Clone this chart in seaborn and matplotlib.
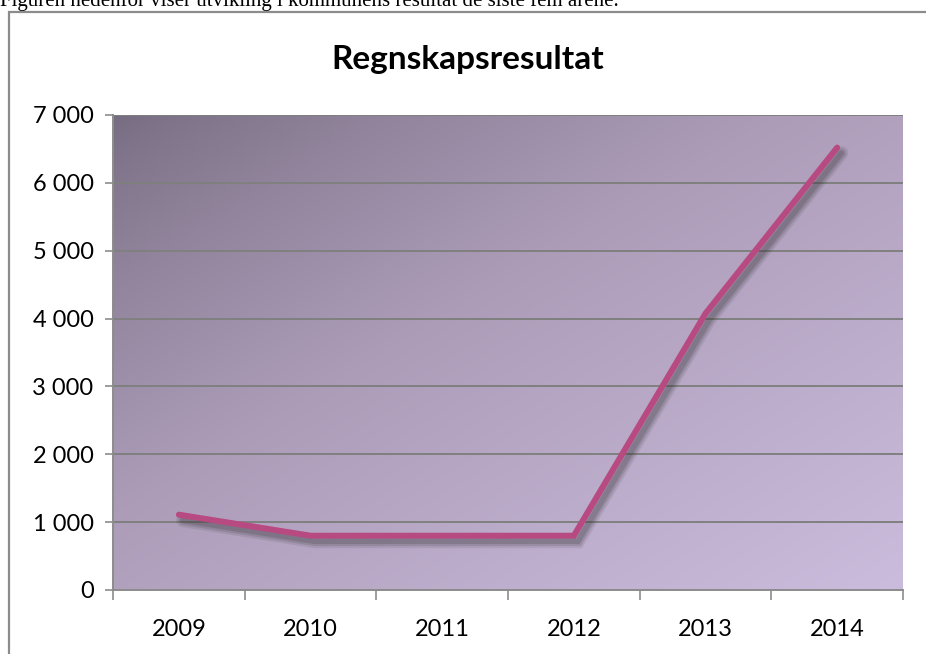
import numpy as np
import pandas as pd
import matplotlib
matplotlib.use("Agg")
import matplotlib.pyplot as plt
import matplotlib.patheffects as pe
from matplotlib.patches import Rectangle
from matplotlib.ticker import FixedLocator, FuncFormatter
import seaborn as sns

# ---- data ----
years = ["2009", "2010", "2011", "2012", "2013", "2014"]
values = [1110, 800, 800, 800, 4075, 6520]
title = "Regnskapsresultat"
header = "Figuren nedenfor viser utvikling i kommunens resultat de siste fem årene."
yticks = [0, 1000, 2000, 3000, 4000, 5000, 6000, 7000]

df = pd.DataFrame({"year": years, "value": values})

sns.set_style("white")
plt.rcParams["font.family"] = ["Lato", "DejaVu Sans"]

W, H = 926, 654
fig = plt.figure(figsize=(W / 100, H / 100), dpi=100)
fig.patch.set_facecolor("white")

# outer chart border (extends past right/bottom edges)
fig.patches.append(Rectangle((9 / W, -0.05), 1.1, 1 - 12 / H + 0.05,
                             transform=fig.transFigure, fill=False,
                             edgecolor="#8c8c8c", linewidth=1.6, zorder=1))

# header text (cut off at top, as in the reference)
fig.text(0 / W, 1 - 6 / H, header, family=["Liberation Serif", "DejaVu Serif"],
         fontsize=15, ha="left", va="baseline", color="black")

left, right, top, bottom = 113, 903, 115, 590
ax = fig.add_axes([left / W, 1 - bottom / H, (right - left) / W, (bottom - top) / H])

# gradient background
nx, ny = 300, 200
u = np.linspace(0, 1, nx)[None, :]
v = np.linspace(0, 1, ny)[:, None]  # 0 at top
t = np.clip((u * 0.5 + v * 0.5), 0, 1) ** 0.8
c0 = np.array([118, 108, 128]) / 255
cm = np.array([172, 156, 184]) / 255
c1 = np.array([203, 188, 221]) / 255
tt = t[..., None]
img = np.where(tt < 0.5,
               c0 * (1 - tt * 2) + cm * (tt * 2),
               cm * (1 - (tt - 0.5) * 2) + c1 * ((tt - 0.5) * 2))
ax.imshow(img, extent=[0, 1, 0, 1], transform=ax.transAxes, aspect="auto",
          zorder=0, interpolation="bilinear")

sns.lineplot(data=df, x="year", y="value", ax=ax, color="#b84a82",
             linewidth=4.3, sort=False, zorder=5,
             solid_capstyle="round", solid_joinstyle="miter")
line = ax.lines[-1]
line.set_path_effects([
    pe.SimpleLineShadow(offset=(3, -4), shadow_color="#2a2a2a", alpha=0.10, linewidth=10),
    pe.SimpleLineShadow(offset=(3, -4), shadow_color="#2a2a2a", alpha=0.15, linewidth=7),
    pe.SimpleLineShadow(offset=(3, -4), shadow_color="#2a2a2a", alpha=0.18, linewidth=4),
    pe.Normal(),
])

ax.set_xlim(-0.5, len(years) - 0.5)
ax.set_ylim(0, 7000)
ax.set_yticks(yticks)
ax.yaxis.set_major_formatter(FuncFormatter(lambda val, pos: f"{int(val):,}".replace(",", " ")))
ax.grid(axis="y", color="#808080", linewidth=1.4, zorder=2)
ax.grid(axis="x", visible=False)
for gl in ax.get_ygridlines():
    gl.set_zorder(2)

ax.set_xlabel("")
ax.set_ylabel("")

# ticks
ax.tick_params(axis="y", which="major", length=6, width=1.2, color="#8c8c8c",
               labelsize=17, pad=8, labelcolor="black", left=True)
ax.tick_params(axis="x", which="major", length=0, labelsize=17, pad=21, labelcolor="black")
ax.xaxis.set_minor_locator(FixedLocator(np.arange(-0.5, len(years), 1.0)))
ax.tick_params(axis="x", which="minor", length=7, width=1.2, color="#8c8c8c", bottom=True)

for s in ["top", "right"]:
    ax.spines[s].set_visible(False)
for s in ["left", "bottom"]:
    ax.spines[s].set_visible(True)
    ax.spines[s].set_color("#8c8c8c")
    ax.spines[s].set_linewidth(1.4)
    ax.spines[s].set_zorder(3)

fig.text(468 / W, 1 - 60 / H, title, fontsize=24, fontweight="bold",
         ha="center", va="center", color="black")

fig.savefig("out.png", dpi=100)
